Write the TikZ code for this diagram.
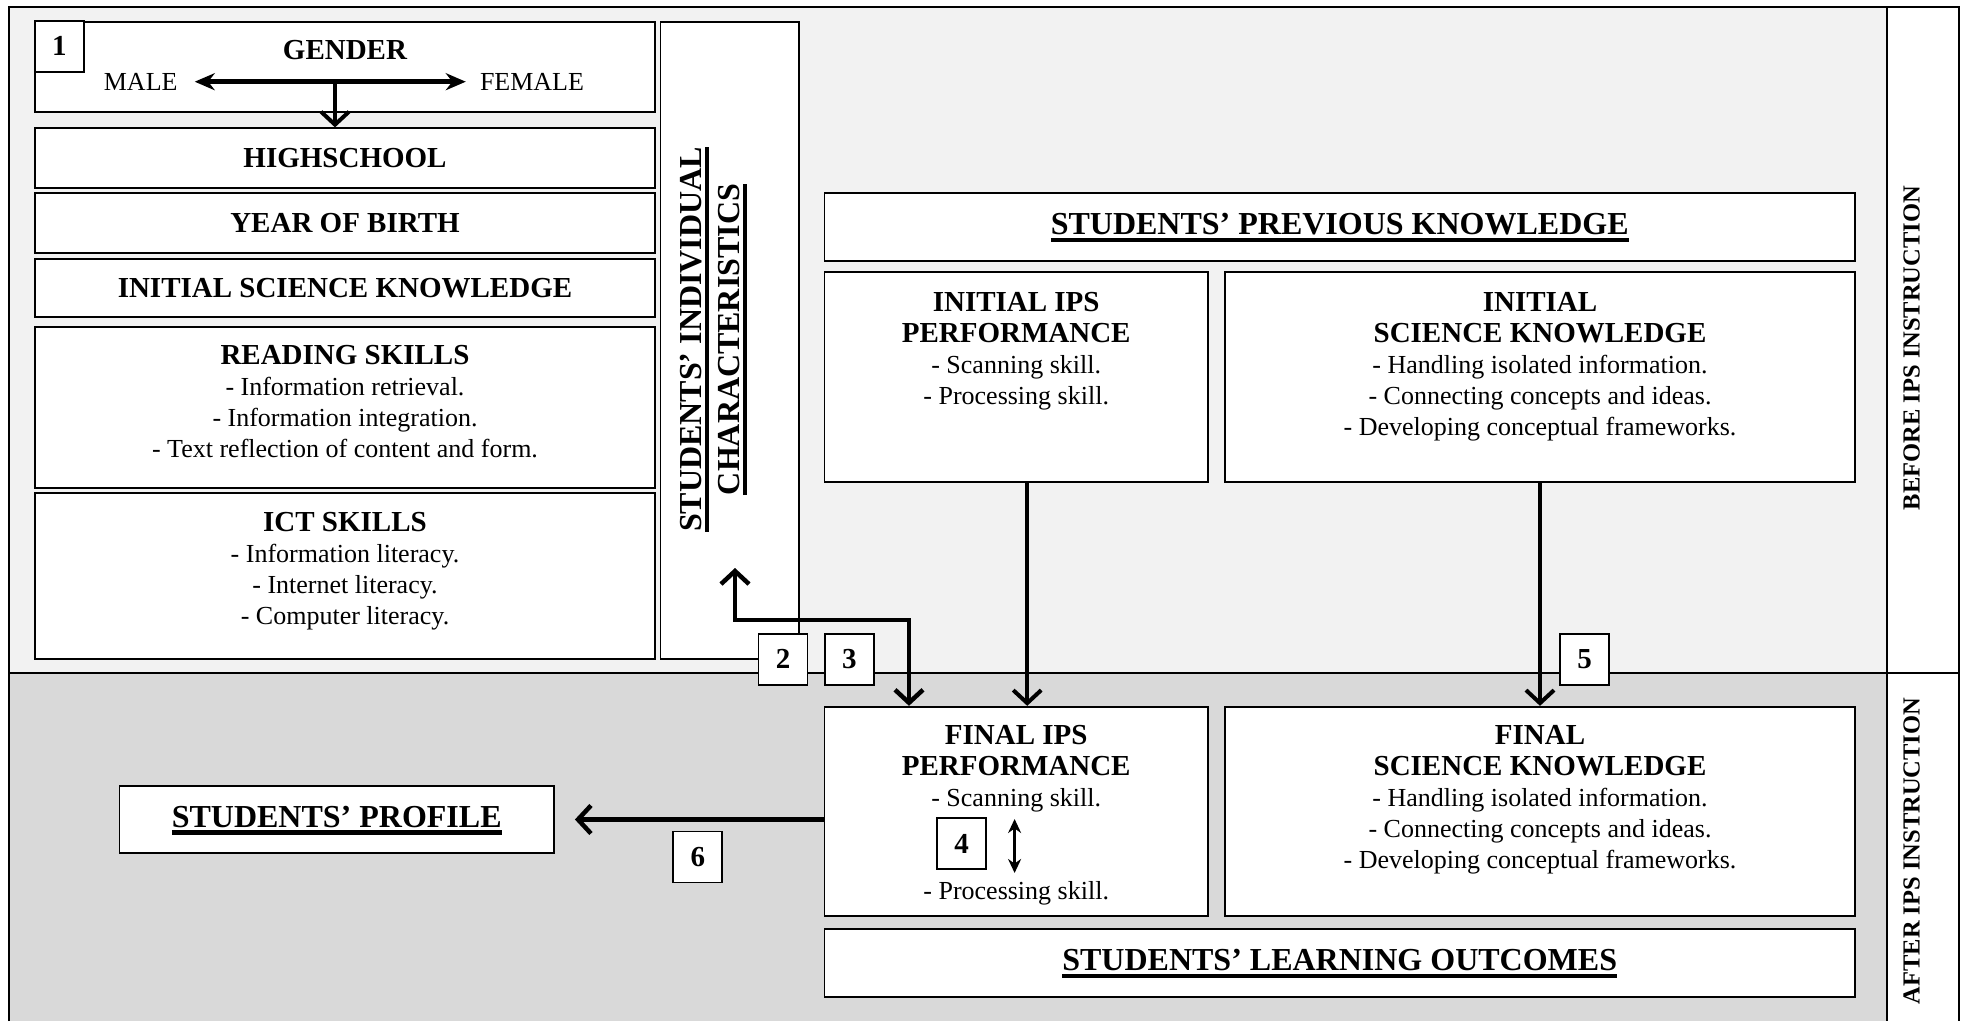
\documentclass[tikz,border=0pt]{standalone}
\usepackage{fontspec}
\setmainfont{Liberation Serif}
\usetikzlibrary{arrows.meta}
\definecolor{topgray}{HTML}{F2F2F2}
\definecolor{botgray}{HTML}{D9D9D9}
\newcommand{\hdfont}{\fontsize{29}{31}\selectfont\bfseries}
\newcommand{\bodyfont}{\fontsize{26}{31}\selectfont}
\newcommand{\bigfont}{\fontsize{32}{38}\selectfont\bfseries}
\newcommand{\sidefont}{\fontsize{24.5}{28}\selectfont\bfseries}
\newcommand{\thickul}[1]{\setbox0=\hbox{#1}\rlap{\smash{\lower7.5pt\hbox{\vrule height4.3pt depth0pt width\wd0}}}\box0}
\tikzset{
  box/.style={draw, line width=1.8pt, fill=white, inner sep=0pt, font=\hdfont},
  numbox/.style={box, minimum width=49pt, minimum height=51pt},
  txt/.style={align=center, inner sep=0pt, font=\bodyfont, anchor=north},
  headbox/.style={box, font=\bigfont, text depth=6pt},
  border/.style={line width=2pt},
  arrowline/.style={line width=4.5pt, -{Straight Barb[length=13pt,width=28pt]}},
  solidtips/.style={line width=4.5pt, {Stealth[length=20pt,width=17pt]}-{Stealth[length=20pt,width=17pt]}}
}

\begin{document}
\begin{tikzpicture}[x=1pt, y=-1pt]
  \useasboundingbox (0,0) rectangle (1966,1021);
  \fill[topgray] (9,7) rectangle (1887,673);
  \fill[botgray] (9,673) rectangle (1887,1021);
  \draw[border] (9,1021) -- (9,7) -- (1959,7) -- (1959,1021);
  \draw[border] (1887,7) -- (1887,1021);
  \draw[border] (9,673) -- (1959,673);
  \node[rotate=90, inner sep=0pt, font=\sidefont] (beforetxt) at (1911.5,348) {BEFORE IPS INSTRUCTION};
  \node[rotate=90, inner sep=0pt, font=\sidefont] (aftertxt) at (1911.5,851) {AFTER IPS INSTRUCTION};

  % students' individual characteristics
  \foreach \name/\y/\h/\txt in {gender/66.7/90/{}, highschool/158/59.4/HIGHSCHOOL, year/223/59.4/YEAR OF BIRTH,
      initknow/288.2/58.3/INITIAL SCIENCE KNOWLEDGE, reading/407.2/161/{}, ict/576.2/165.7/{}}
    \node[box, minimum width=620pt, minimum height=\h pt] (\name) at (345,\y) {\txt};
  \node[inner sep=0pt, font=\hdfont] (gendertxt) at (345,50) {GENDER};
  \node[inner sep=0pt, font=\bodyfont] (male) at (140.7,81.7) {MALE};
  \node[inner sep=0pt, font=\bodyfont] (female) at (532,81.7) {FEMALE};
  \coordinate (gsplit) at (335,81);
  \node[txt] (readingtxt) at (345,345.4) {{\hdfont READING SKILLS}\\- Information retrieval.\\- Information integration.\\- Text reflection of content and form.};
  \node[txt] (icttxt) at (345,512) {{\hdfont ICT SKILLS}\\- Information literacy.\\- Internet literacy.\\- Computer literacy.};
  \node[box, minimum width=138.5pt, minimum height=637.3pt] (charbox) at (729.8,340.4) {};
  \node[rotate=90, align=center, inner sep=0pt, font=\bigfont] (chartxt) at (710,339.5) {\thickul{STUDENTS’ INDIVIDUAL}\\\thickul{CHARACTERISTICS}};

  % previous knowledge
  \node[headbox, minimum width=1030.6pt, minimum height=67.7pt] (prevknow) at (1339.7,227.2) {\thickul{STUDENTS’ PREVIOUS KNOWLEDGE}};
  \node[box, minimum width=383.6pt, minimum height=209.4pt] (initips) at (1016.2,377) {};
  \node[box, minimum width=630pt, minimum height=209.4pt] (initsci) at (1540,377) {};
  \node[txt] (initipstxt) at (1016.2,292) {{\hdfont INITIAL IPS}\\{\hdfont PERFORMANCE}\\- Scanning skill.\\- Processing skill.};
  \node[txt] (initscitxt) at (1540,292) {{\hdfont INITIAL}\\{\hdfont SCIENCE KNOWLEDGE}\\- Handling isolated information.\\- Connecting concepts and ideas.\\- Developing conceptual frameworks.};

  % learning outcomes
  \node[box, minimum width=383.6pt, minimum height=209.3pt] (finips) at (1016.2,811.4) {};
  \node[box, minimum width=630pt, minimum height=209.3pt] (finsci) at (1540,811.4) {};
  \node[txt] (finipstxt) at (1016.2,725.4) {{\hdfont FINAL IPS}\\{\hdfont PERFORMANCE}\\- Scanning skill.\\[62pt]- Processing skill.};
  \node[txt] (finscitxt) at (1540,725.4) {{\hdfont FINAL}\\{\hdfont SCIENCE KNOWLEDGE}\\- Handling isolated information.\\- Connecting concepts and ideas.\\- Developing conceptual frameworks.};
  \node[headbox, minimum width=1030.6pt, minimum height=67.4pt] (outcomes) at (1339.7,963) {\thickul{STUDENTS’ LEARNING OUTCOMES}};
  \node[headbox, minimum width=434.6pt, minimum height=67.6pt] (profile) at (336.7,819.5) {\thickul{STUDENTS’ PROFILE}};

  % arrows
  \draw[solidtips, shorten <=17pt, shorten >=14pt] (male.east) -- (female.west);
  \draw[arrowline, line width=4pt] (gsplit) -- (gsplit |- highschool.north);
  \draw[arrowline, line width=4pt] ([xshift=11pt]initips.south) -- ([xshift=11pt]finips.north);
  \draw[arrowline, line width=4pt] (initsci.south) -- (finsci.north);
  \coordinate (chartip) at (735,568);
  \coordinate (bend) at (735,620);
  \draw[arrowline, {Straight Barb[length=13pt,width=28pt]}-{Straight Barb[length=13pt,width=28pt]}] (chartip) -- (bend) -| ([xshift=-107.2pt]finips.north);
  \draw[arrowline, shorten >=20pt] (finips.west |- profile.east) -- (profile.east);
  \coordinate (swap top) at (1014.6,819);
  \coordinate (swap bot) at (1014.6,873);
  \draw[line width=3pt, {Stealth[length=14pt,width=13pt]}-{Stealth[length=14pt,width=13pt]}] (swap top) -- (swap bot);

  % numbered links
  \foreach \n/\x/\y in {1/59.4/46.4, 2/783/659.2, 3/849.4/659.2, 4/961.5/843.8, 5/1584.5/659.2, 6/697.8/857}
    \node[numbox] (num\n) at (\x,\y) {\n};
\end{tikzpicture}
\end{document}
